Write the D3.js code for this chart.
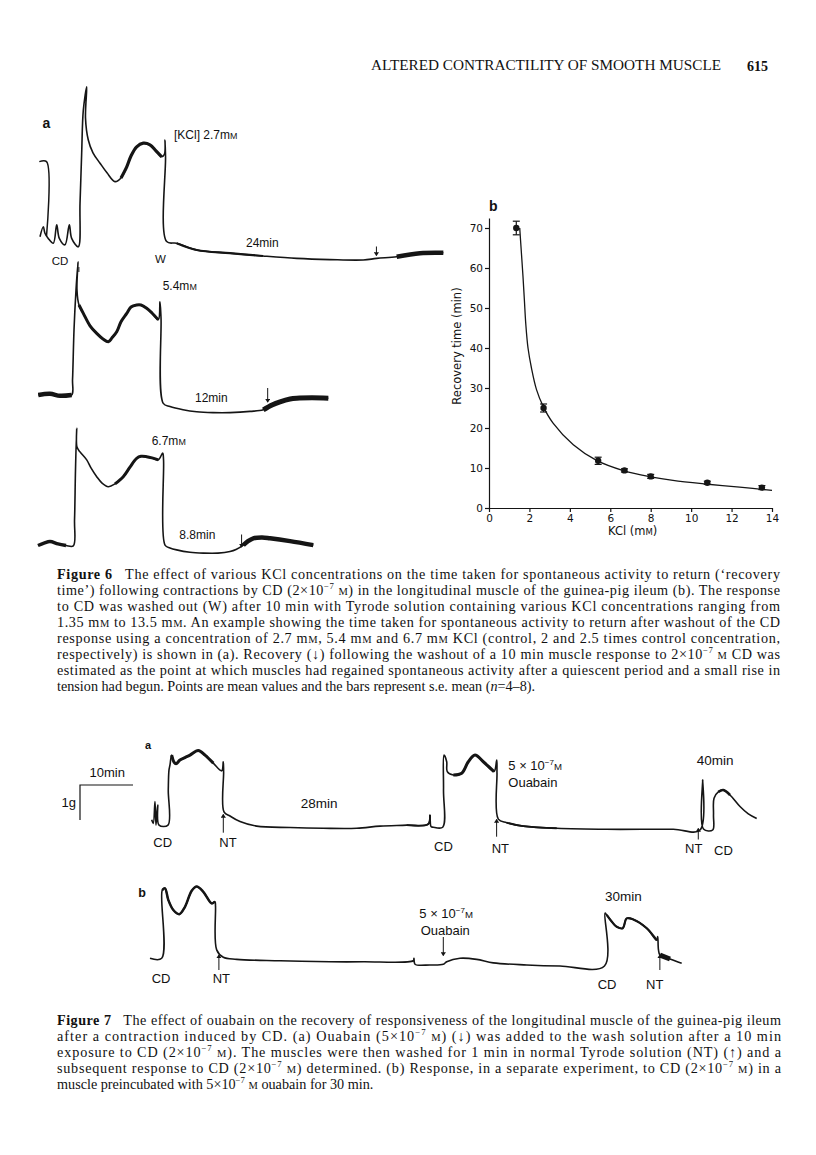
<!DOCTYPE html>
<html>
<head>
<meta charset="utf-8">
<script src="https://cdn.jsdelivr.net/npm/d3@7"></script>
<style>
body { margin: 0; background: #fff; }
text { fill: #111; white-space: pre; }
</style>
</head>
<body>
<script>
// ---------------- data ----------------
// Fig 6b: recovery time vs KCl
var kcl = [1.35, 2.7, 5.4, 6.7, 8.0, 10.8, 13.5];
var recovery = [70, 25, 11.8, 9.4, 7.9, 6.3, 5.1];
var recoverySem = [1.7, 1.0, 0.9, 0.4, 0.5, 0.4, 0.5];
var fitKcl = [1.52, 1.6, 1.68, 1.75, 1.82, 1.93, 2.1, 2.35, 2.68, 3.17, 4.17, 5.32, 6.68, 8.0, 9.1, 10.7, 12.4, 14];
var fitTime = [70, 64, 58, 52, 46, 40, 35, 29.6, 25.4, 21.2, 15.8, 11.9, 9.3, 7.8, 6.9, 6.0, 5.2, 4.4];
var kclTicks = [0, 2, 4, 6, 8, 10, 12, 14];
var timeTicks = [0, 10, 20, 30, 40, 50, 60, 70];

// Fig 6a traces: [time (min), tension (g)]
var calib27 = [[0.15, 2.46], [0.98, 2.46], [0.98, 0.6]];
var trace27 = [[0.23,0.58],[0.61,0.83],[0.80,0.67],[1.18,0.54],[1.76,0.42],[2.15,0.88],[2.45,0.54],[3.10,0.38],
  [3.60,0.88],[3.87,0.54],[4.63,0.33],[4.83,1.42],[5.02,2.67],[5.21,3.75],[5.60,4.33],[5.46,3.55],[5.78,3.0],
  [6.32,2.68],[7.13,2.42],[7.93,2.18],[8.85,1.96],[9.54,2.05],[10.20,2.33],[10.69,2.60],[11.34,2.83],[12.10,2.92],
  [12.87,2.88],[13.56,2.73],[14.22,2.58],[14.54,2.65],[14.60,3.0],[14.66,2.58],[14.79,0.46],[15.94,0.42],
  [18.24,0.25],[22.07,0.17],[25.86,0.10],[29.74,0.04],[33.56,0.01],[37.39,0],[38.93,0.04],[41.23,0.08],
  [43.91,0.17],[46.59,0.18]];
var trace54 = [[0.03,0.45],[1.38,0.48],[2.53,0.43],[3.87,0.45],[3.97,0.83],[4.14,2.08],[4.37,3.08],[4.60,3.78],
  [4.48,3.08],[4.71,2.70],[5.21,2.49],[5.98,2.18],[6.75,1.99],[7.47,1.85],[8.08,1.78],[8.51,1.88],[9.05,2.03],
  [9.54,2.28],[10.20,2.49],[10.69,2.65],[11.34,2.70],[11.84,2.70],[12.49,2.62],[13.10,2.5],[13.83,2.33],
  [14.02,2.78],[14.14,2.38],[14.40,0.24],[15.17,0.16],[16.67,0.08],[18.24,0.03],[20.11,0.01],[22.07,0.01],
  [24.37,0.04],[25.90,0.08],[26.90,0.20],[27.82,0.28],[28.97,0.35],[29.74,0.37],[31.49,0.38],[33.37,0.37]];
var trace67 = [[0,0.2],[0.69,0.26],[1.38,0.3],[2.30,0.24],[3.22,0.2],[4.06,0.19],[4.20,0.84],[4.31,2.09],
  [4.45,3.13],[4.48,2.66],[4.83,2.54],[5.60,2.34],[6.09,2.14],[6.75,1.92],[7.36,1.76],[8.08,1.67],[8.85,1.74],
  [9.80,1.92],[10.57,2.16],[11.34,2.38],[11.84,2.43],[12.49,2.42],[13.10,2.39],[13.83,2.34],[14.33,2.51],
  [14.43,2.34],[14.60,0.21],[15.17,0.14],[15.94,0.09],[17.47,0.03],[19.0,0.01],[20.69,0.01],[22.07,0.05],
  [22.76,0.10],[23.60,0.21],[24.14,0.31],[24.75,0.38],[25.75,0.40],[26.67,0.38],[28.97,0.31],[31.64,0.21]];
var recoveryAt = [38.9, 26.4, 23.4]; // arrows (min)

// Fig 7 traces: [time (min), tension (g)]
var trace7a = [[0.32,0.29],[0.62,0.19],[0.94,0.81],[1.13,0.14],[1.45,0.71],[1.70,0.14],[3.40,0.14],[3.45,1.14],
  [3.58,1.71],[3.77,1.86],[4.09,2.14],[4.53,1.94],[4.91,1.89],[5.66,2.0],[6.60,2.07],[7.55,2.14],[9.11,2.27],
  [10.38,2.14],[11.94,1.91],[13.53,1.69],[13.83,1.95],[13.89,1.66],[13.96,0.52],[15.09,0.40],[16.98,0.24],
  [20.13,0.11],[26.42,0.07],[32.70,0.05],[39.0,0.05],[43.40,0.11],[48.43,0.14],[52.51,0.17],[52.83,0.43],
  [53.02,0.10],[53.45,0.08],[55.23,0.08],[55.38,1.14],[55.47,2.14],[55.98,1.95],[56.09,1.67],[57.23,1.57],
  [58.81,1.62],[60.06,1.95],[61.32,2.14],[62.89,1.95],[64.91,1.67],[65.42,2.0],[65.47,1.63],[65.72,0.31],
  [67.30,0.21],[70.43,0.11],[76.74,0.05],[86.17,0.02],[98.74,0.02],[103.77,0],[104.28,1.43],[104.43,0.03],
  [106.17,0],[106.32,0.43],[106.42,0.91],[107.23,1.09],[108.17,1.14],[109.43,1.0],[111.32,0.67],[112.89,0.46],
  [114.47,0.33]];
var trace7b = [[0,0.22],[2.21,0.22],[2.32,2.17],[2.83,2.22],[3.45,1.89],[4.40,1.60],[5.53,1.48],[6.60,1.69],
  [7.87,2.15],[8.81,2.27],[10.06,2.12],[11.64,1.79],[12.26,1.84],[12.36,1.71],[12.58,0.46],[13.83,0.25],
  [16.36,0.19],[24.53,0.15],[33.96,0.12],[40.25,0.12],[49.68,0.15],[49.81,0.22],[50.0,0.05],[52.83,0.03],
  [55.34,0.05],[55.98,0.12],[58.49,0.22],[61.64,0.19],[64.77,0.09],[71.08,0.03],[77.36,0],[85.75,0],
  [85.85,1.51],[86.17,1.46],[87.11,1.27],[88.06,1.12],[89.19,1.08],[89.94,1.36],[91.19,1.33],[93.72,1.08],
  [95.60,0.74],[95.79,0.84],[95.94,0.46],[96.23,0.31],[98.11,0.20],[100.32,0.08]];
var ntTimes7a = [13.83, 65.4, 103.45];
var ntTimes7b = [13.0, 96.2];
var ouabainTime7b = 55.34;

var cap6 = [
  "{b:Figure 6}   The effect of various KCl concentrations on the time taken for spontaneous activity to return (\u2018recovery",
  "time\u2019) following contractions by CD (2\u00d710{s:\u22127} {m:M}) in the longitudinal muscle of the guinea-pig ileum (b). The response",
  "to CD was washed out (W) after 10 min with Tyrode solution containing various KCl concentrations ranging from",
  "1.35 m{m:M} to 13.5 m{m:M}. An example showing the time taken for spontaneous activity to return after washout of the CD",
  "response using a concentration of 2.7 m{m:M}, 5.4 m{m:M} and 6.7 m{m:M} KCl (control, 2 and 2.5 times control concentration,",
  "respectively) is shown in (a). Recovery (\u2193) following the washout of a 10 min muscle response to 2\u00d710{s:\u22127} {m:M} CD was",
  "estimated as the point at which muscles had regained spontaneous activity after a quiescent period and a small rise in",
  "tension had begun. Points are mean values and the bars represent s.e. mean ({i:n}=4\u20138)."
];
var cap7 = [
  "{b:Figure 7}   The effect of ouabain on the recovery of responsiveness of the longitudinal muscle of the guinea-pig ileum",
  "after a contraction induced by CD. (a) Ouabain (5\u00d710{s:\u22127} {m:M}) (\u2193) was added to the wash solution after a 10 min",
  "exposure to CD (2\u00d710{s:\u22127} {m:M}). The muscles were then washed for 1 min in normal Tyrode solution (NT) (\u2191) and a",
  "subsequent response to CD (2\u00d710{s:\u22127} {m:M}) determined. (b) Response, in a separate experiment, to CD (2\u00d710{s:\u22127} {m:M}) in a",
  "muscle preincubated with 5\u00d710{s:\u22127} {m:M} ouabain for 30 min."
];

// ---------------- drawing ----------------
var ink = "#151515";
var svg = d3.select("body").append("svg").attr("width", 816).attr("height", 1155);

svg.append("defs").append("marker")
  .attr("id", "ah").attr("viewBox", "0 0 6 8").attr("refX", 5).attr("refY", 4)
  .attr("markerWidth", 4).attr("markerHeight", 5.5).attr("markerUnits", "userSpaceOnUse")
  .attr("orient", "auto")
  .append("path").attr("d", "M0,0 L6,4 L0,8 z").attr("fill", ink);

// text with tiny markup: {b:..} bold, {s:..} superscript, {m:..} small cap, {i:..} italic
function rich(x, y, str, font, size, width) {
  var t = svg.append("text").attr("x", x).attr("y", y)
    .style("font-family", font).style("font-size", size + "px");
  var parts = str.split(/(\{[bsmi]:[^}]*\})/);
  var shift = 0;
  parts.forEach(function (p) {
    if (!p) return;
    var m = p.match(/^\{([bsmi]):([^}]*)\}$/);
    var ts = t.append("tspan");
    var dy = 0;
    if (m) {
      ts.text(m[2]);
      if (m[1] == "b") ts.style("font-weight", "bold");
      if (m[1] == "i") ts.style("font-style", "italic");
      if (m[1] == "m") ts.style("font-size", (size * 0.74) + "px");
      if (m[1] == "s") { ts.style("font-size", (size * 0.62) + "px"); dy = -size * 0.38 - shift; shift = -size * 0.38; }
      else { dy = -shift; shift = 0; }
    } else {
      ts.text(p);
      dy = -shift; shift = 0;
    }
    if (dy) ts.attr("dy", dy);
  });
  if (width) t.attr("textLength", width).attr("lengthAdjust", "spacing");
  return t;
}

var sans = "'Liberation Sans', Arial, sans-serif";
var serif = "'Liberation Serif', 'Times New Roman', serif";

// page header
svg.append("text").attr("x", 371).attr("y", 70).attr("textLength", 350).attr("lengthAdjust", "spacingAndGlyphs")
  .style("font-family", serif).style("font-size", "15px").text("ALTERED CONTRACTILITY OF SMOOTH MUSCLE");
svg.append("text").attr("x", 747).attr("y", 70.5).style("font-family", serif).style("font-size", "14px")
  .style("font-weight", "bold").text("615");

// trace helper
function drawTrace(data, x, y, bands, w) {
  var line = d3.line().x(function (d) { return x(d[0]); }).y(function (d) { return y(d[1]); })
    .curve(d3.curveCatmullRom.alpha(0.5));
  svg.append("path").attr("d", line(data)).attr("fill", "none").attr("stroke", ink)
    .attr("stroke-width", w || 1.6).attr("stroke-linejoin", "round");
  (bands || []).forEach(function (b) {
    var seg = data.filter(function (d) { return d[0] >= b[0] && d[0] <= b[1]; });
    svg.append("path").attr("d", line(seg)).attr("fill", "none").attr("stroke", ink)
      .attr("stroke-width", b[2]).attr("stroke-linejoin", "round").attr("stroke-linecap", "butt");
  });
}
function arrow(x, y1, y2) {
  svg.append("line").attr("x1", x).attr("x2", x).attr("y1", y1).attr("y2", y2)
    .attr("stroke", ink).attr("stroke-width", 1).attr("marker-end", "url(#ah)");
}
function label(x, y, str, size, font, weight) {
  var t = rich(x, y, str, font || sans, size);
  if (weight) t.style("font-weight", weight);
  return t;
}

// ---- Fig 6a ----
var x6a = d3.scaleLinear().domain([0, 47]).range([38, 38 + 47 * 8.7]);
var y27 = d3.scaleLinear().domain([0, 1]).range([260, 220]);
var y54 = d3.scaleLinear().domain([0, 1]).range([413, 373]);
var y67 = d3.scaleLinear().domain([0, 1]).range([553.5, 513.5]);

drawTrace(calib27, x6a, y27, [], 1.5);
drawTrace(trace27, x6a, y27, [[9.5, 14.5, 3.2], [14.8, 28, 2.2], [40.5, 46.6, 4.5]]);
drawTrace(trace54, x6a, y54, [[0, 3.9, 4.5], [4.7, 13.9, 3], [25.6, 33.4, 5]]);
drawTrace(trace67, x6a, y67, [[0, 4.0, 3.5], [8.8, 14.3, 3], [23, 31.7, 4.5]]);

label(42.5, 127.5, "a", 14, sans, "bold");
label(174, 138.5, "[KCl] 2.7m{m:M}", 12);
label(51.7, 265, "CD", 11.5);
label(155, 263, "W", 11.5);
label(246, 246.5, "24min", 12);
svg.append("line").attr("x1", x6a(4.7)).attr("x2", x6a(4.7)).attr("y1", 267).attr("y2", 272)
  .attr("stroke", ink).attr("stroke-width", 1);
arrow(x6a(recoveryAt[0]), 246.5, 255.5);

label(162.7, 290, "5.4m{m:M}", 12);
label(195, 401.7, "12min", 12);
arrow(x6a(recoveryAt[1]), 388, 402);

label(151.7, 445, "6.7m{m:M}", 12);
label(179.3, 539, "8.8min", 12);
arrow(x6a(recoveryAt[2]), 534.5, 547);

// ---- Fig 6b ----
var x6b = d3.scaleLinear().domain([0, 14]).range([489, 772]);
var y6b = d3.scaleLinear().domain([0, 72.5]).range([508, 218]);
var tickFont = "'DejaVu Sans', sans-serif";

var gx = svg.append("g").attr("transform", "translate(0,508)")
  .call(d3.axisBottom(x6b).tickValues(kclTicks).tickSize(4).tickSizeOuter(0).tickPadding(3));
var gy = svg.append("g").attr("transform", "translate(489,0)")
  .call(d3.axisLeft(y6b).tickValues(timeTicks).tickSize(4).tickSizeOuter(0).tickPadding(2));
[gx, gy].forEach(function (g) {
  g.selectAll("path,line").attr("stroke", ink).attr("stroke-width", 1.2);
  g.selectAll("text").style("font-family", tickFont).style("font-size", "10.5px").attr("fill", ink);
});
svg.append("text").attr("transform", "translate(460.5,346) rotate(-90)").attr("text-anchor", "middle")
  .style("font-family", tickFont).style("font-size", "11.5px").text("Recovery time (min)");
rich(608, 535, "KCl (m{m:M})", tickFont, 11.5);
label(489, 210.5, "b", 14, sans, "bold");

var fit = d3.line().x(function (d, i) { return x6b(fitKcl[i]); }).y(function (d) { return y6b(d); })
  .curve(d3.curveCatmullRom.alpha(0.5));
svg.append("path").attr("d", fit(fitTime)).attr("fill", "none").attr("stroke", ink).attr("stroke-width", 1.3);

kcl.forEach(function (k, i) {
  var cx = x6b(k), lo = y6b(recovery[i] - recoverySem[i]), hi = y6b(recovery[i] + recoverySem[i]);
  svg.append("line").attr("x1", cx).attr("x2", cx).attr("y1", lo).attr("y2", hi).attr("stroke", ink).attr("stroke-width", 1.2);
  [lo, hi].forEach(function (yy) {
    svg.append("line").attr("x1", cx - 3.5).attr("x2", cx + 3.5).attr("y1", yy).attr("y2", yy)
      .attr("stroke", ink).attr("stroke-width", 1.2);
  });
  svg.append("circle").attr("cx", cx).attr("cy", y6b(recovery[i])).attr("r", 3.2).attr("fill", ink);
});

// ---- Fig 6 caption ----
cap6.forEach(function (s, i) {
  rich(57, 578.5 + i * 16, s, serif, 14.2, i < cap6.length - 1 ? 723 : null);
});

// ---- Fig 7 ----
var x7 = d3.scaleLinear().domain([0, 1]).range([150, 155.3]);
var y7a = d3.scaleLinear().domain([0, 1]).range([830, 795]);
var y7b = d3.scaleLinear().domain([0, 1]).range([966, 931]);

// scale bar: 10 min, 1 g
var barLen = x7(10) - x7(0), barH = y7a(0) - y7a(1);
svg.append("path").attr("d", "M" + (80 + barLen) + ",785 H80 V" + (785 + barH))
  .attr("fill", "none").attr("stroke", ink).attr("stroke-width", 1.2);
label(89.5, 777, "10min", 13);
label(61.5, 807, "1g", 13);

drawTrace(trace7a, x7, y7a, [[4, 13.5, 3], [44, 53, 1.8], [57, 65, 3], [66, 80, 1.8], [106.5, 111, 2.5]]);
drawTrace(trace7b, x7, y7b, [[2.3, 12.3, 2.5], [86, 95.6, 2.2], [96, 100.3, 5]]);

label(145, 748.5, "a", 11, sans, "bold");
label(153.3, 847, "CD", 13);
label(219.3, 847, "NT", 13);
label(300.7, 808, "28min", 13.5);
label(434, 851, "CD", 13);
label(491.7, 853, "NT", 13);
rich(508.3, 770, "5 \u00d7 10{s:\u22127}{m:M}", sans, 13);
label(508.3, 786.7, "Ouabain", 13);
label(696.7, 765, "40min", 13.5);
label(685, 853, "NT", 13);
label(714, 855, "CD", 13);
arrow(x7(ntTimes7a[0]), 832.7, 814.5);
arrow(x7(ntTimes7a[1]), 836.7, 819.5);
arrow(x7(ntTimes7a[2]), 839.5, 828.5);

label(138.3, 896.7, "b", 12.5, sans, "bold");
label(151.7, 983, "CD", 13);
label(212.7, 983, "NT", 13);
rich(419.3, 918, "5 \u00d7 10{s:\u22127}{m:M}", sans, 13);
label(420.7, 935, "Ouabain", 13);
label(605, 900.7, "30min", 13.5);
label(597.7, 989, "CD", 13);
label(646, 989, "NT", 13);
arrow(x7(ntTimes7b[0]), 970, 955);
arrow(x7(ouabainTime7b), 937, 955.5);
arrow(x7(ntTimes7b[1]), 970, 955);

// ---- Fig 7 caption ----
cap7.forEach(function (s, i) {
  rich(57, 1024.5 + i * 16, s, serif, 14.2, i < cap7.length - 1 ? 724 : null);
});
</script>
</body>
</html>
